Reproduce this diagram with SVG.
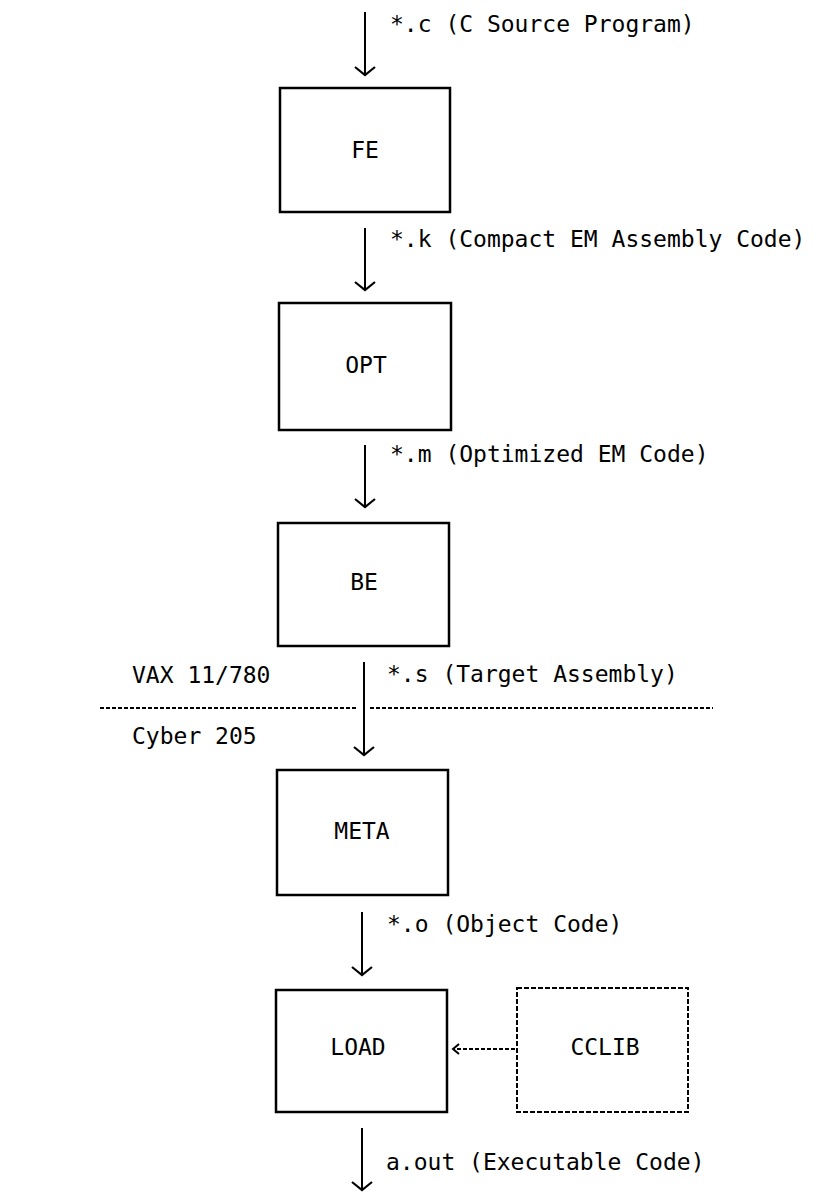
<svg xmlns="http://www.w3.org/2000/svg" width="816" height="1192" viewBox="0 0 816 1192">
  <style>
    .box { fill: #fff; stroke: #000; stroke-width: 2.5; }
    .dbox { fill: #fff; stroke: #000; stroke-width: 2; stroke-dasharray: 5 2; }
    .t { font-family: "DejaVu Sans Mono", "Liberation Mono", monospace; font-size: 23px; fill: #000; }
    .c { text-anchor: middle; }
    .conn { stroke: #000; stroke-width: 2; fill: none; }
    .dot { stroke: #000; stroke-width: 2; fill: none; stroke-dasharray: 4 2; }
  </style>
  <defs>
    <marker id="ah" markerUnits="userSpaceOnUse" markerWidth="24" markerHeight="24" viewBox="-12 -12 24 24" refX="0" refY="0" orient="auto">
      <path d="M-8,-10 L0,0 L-8,10" fill="none" stroke="#000" stroke-width="2.2"/>
    </marker>
    <marker id="ahs" markerUnits="userSpaceOnUse" markerWidth="16" markerHeight="16" viewBox="-8 -8 16 16" refX="0" refY="0" orient="auto">
      <path d="M-6,-5 L0,0 L-6,5" fill="none" stroke="#000" stroke-width="2"/>
    </marker>
  </defs>

  <g id="connectors">
    <line class="conn" x1="365" y1="12" x2="365" y2="75" marker-end="url(#ah)"/>
    <line class="conn" x1="365" y1="228" x2="365" y2="290" marker-end="url(#ah)"/>
    <line class="conn" x1="365" y1="445" x2="365" y2="507" marker-end="url(#ah)"/>
    <line class="conn" x1="364" y1="662" x2="364" y2="755" marker-end="url(#ah)"/>
    <line class="conn" x1="362" y1="912" x2="362" y2="975" marker-end="url(#ah)"/>
    <line class="conn" x1="362" y1="1128" x2="362" y2="1190" marker-end="url(#ah)"/>
    <line class="dot" x1="515" y1="1049" x2="453" y2="1049" marker-end="url(#ahs)"/>
  </g>

  <g id="edge-labels">
    <text class="t" x="390" y="32">*.c (C Source Program)</text>
    <text class="t" x="390" y="247">*.k (Compact EM Assembly Code)</text>
    <text class="t" x="390" y="462">*.m (Optimized EM Code)</text>
    <text class="t" x="387" y="682">*.s (Target Assembly)</text>
    <text class="t" x="387" y="932">*.o (Object Code)</text>
    <text class="t" x="386" y="1170">a.out (Executable Code)</text>
  </g>

  <g id="divider">
    <line x1="100" y1="708" x2="358" y2="708" stroke="#000" stroke-width="2" stroke-dasharray="4 2"/>
    <line x1="370" y1="708" x2="713" y2="708" stroke="#000" stroke-width="2" stroke-dasharray="4 2"/>
    <text class="t" x="132" y="683">VAX 11/780</text>
    <text class="t" x="132" y="744">Cyber 205</text>
  </g>

  <g id="FE">
    <rect class="box" x="280" y="88" width="170" height="124"/>
    <text class="t c" x="365" y="158">FE</text>
  </g>
  <g id="OPT">
    <rect class="box" x="279" y="303" width="172" height="127"/>
    <text class="t c" x="366" y="373">OPT</text>
  </g>
  <g id="BE">
    <rect class="box" x="278" y="523" width="171" height="123"/>
    <text class="t c" x="364" y="590">BE</text>
  </g>
  <g id="META">
    <rect class="box" x="277" y="770" width="171" height="125"/>
    <text class="t c" x="362" y="839">META</text>
  </g>
  <g id="LOAD">
    <rect class="box" x="276" y="990" width="171" height="122"/>
    <text class="t c" x="358" y="1055">LOAD</text>
  </g>
  <g id="CCLIB">
    <rect class="dbox" x="517" y="988" width="171" height="124"/>
    <text class="t c" x="605" y="1055">CCLIB</text>
  </g>
</svg>
